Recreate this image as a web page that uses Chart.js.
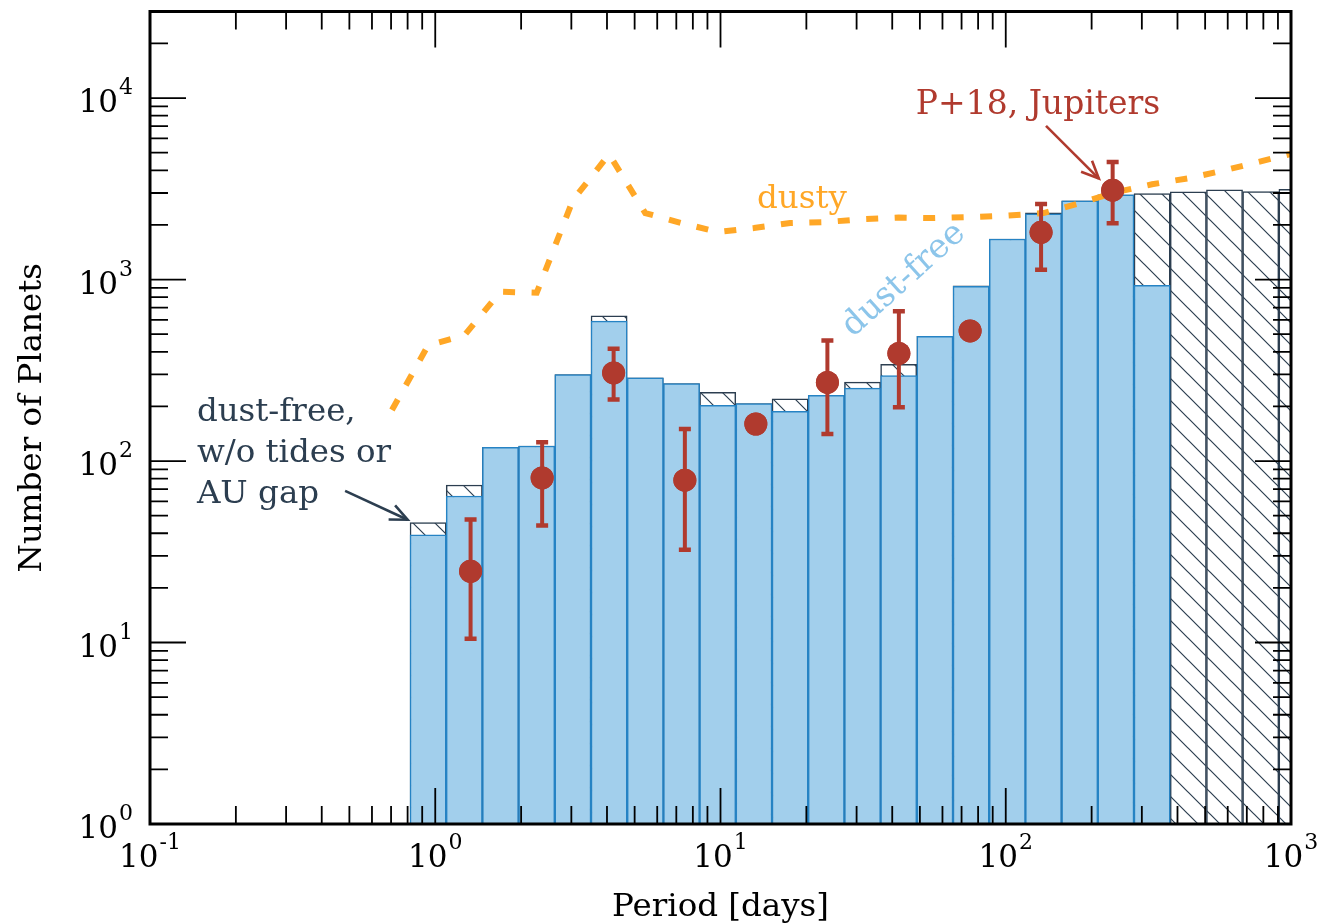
<!DOCTYPE html>
<html lang="en">
  <head>
    <meta charset="utf-8" />
    <script src="https://cdn.jsdelivr.net/npm/chart.js"></script>
    <style>
      body {
        margin: 0;
        background: #fff;
      }
      #wrap {
        width: 1333px;
        height: 924px;
      }
    </style>
    <title>Period distribution of planets</title>
  </head>

  <body>
    <div id="wrap">
      <canvas id="myChart" width="1333" height="924"></canvas>
    </div>

    <script>
      // histogram bin centres [days] (bins ~0.127 dex wide)
      const binPeriods = [
        0.944, 1.264, 1.693, 2.268, 3.038, 4.069, 5.45, 7.3, 9.777, 13.1,
        17.54, 23.49, 31.47, 42.14, 56.45, 75.61, 101.3, 135.6, 181.7, 243.3,
        325.9, 436.5, 584.7, 783.2, 1049,
      ];
      // dust-free model (blue)
      const dustFreeCounts = [
        39.2, 64.2, 119, 121, 300, 590, 287, 267, 203, 207, 188, 230, 252,
        296, 486, 917, 1674, 2300, 2715, 2928, 928,
      ];
      // dust-free, w/o tides or AU gap (hatched)
      const noTidesCounts = [
        45.8, 73.8, 119, 121, 300, 631, 287, 267, 239, 207, 220, 230, 272,
        341, 486, 925, 1674, 2330, 2715, 2928, 2980, 3041, 3119, 3055, 3147,
      ];

      // dusty model (dashed orange line)
      const dustyPeriods = [
        0.705, 0.944, 1.264, 1.693, 2.268, 3.038, 4.069, 5.45, 7.3, 9.777,
        13.1, 17.54, 23.49, 31.47, 42.14, 56.45, 75.61, 101.3, 135.6, 181.7,
        243.3, 325.9, 436.5, 584.7, 783.2, 1049,
      ];
      const dustyCounts = [
        191, 434, 492, 857, 846, 2738, 4900, 2324, 2048, 1829, 1923, 2048,
        2074, 2154, 2196, 2182, 2210, 2252, 2324, 2636, 3029, 3351, 3615,
        3999, 4480, 5020,
      ];

      // P+18 Jupiters with error bars
      const p18Periods = [1.33, 2.37, 4.22, 7.5, 13.3, 23.7, 42.2, 75.0, 133, 237];
      const p18Counts = [24.7, 80.7, 306, 78.4, 160, 271, 392, 521, 1822, 3108];
      const p18Upper = [47.7, 127, 416, 150, null, 462, 670, null, 2605, 4447];
      const p18Lower = [10.5, 44.1, 218, 32.4, null, 141, 198, null, 1133, 2042];

      // decade tick labels (exponents)
      const xTickExps = [-1, 0, 1, 2, 3];
      const yTickExps = [0, 1, 2, 3, 4];

      const SERIF = '"DejaVu Serif", "Liberation Serif", serif';
      const RED = "rgb(176, 58, 46)";
      const ORANGE = "rgb(255, 167, 38)";
      const SLATE = "rgb(44, 62, 80)";

      // hatch pattern for the "w/o tides" bars
      function makeHatch() {
        const s = 22;
        const c = document.createElement("canvas");
        c.width = s;
        c.height = s;
        const g = c.getContext("2d");
        g.fillStyle = "#fff";
        g.fillRect(0, 0, s, s);
        g.strokeStyle = SLATE;
        g.lineWidth = 1.2;
        g.beginPath();
        g.moveTo(-2, -2);
        g.lineTo(s + 2, s + 2);
        g.moveTo(s - 2, -2);
        g.lineTo(s + 2, 2);
        g.moveTo(-2, s - 2);
        g.lineTo(2, s + 2);
        g.stroke();
        return g.createPattern(c, "repeat");
      }

      function logTicks(min, max) {
        const out = [];
        for (let e = Math.floor(Math.log10(min)); e <= Math.ceil(Math.log10(max)); e++) {
          for (let m = 1; m <= 9; m++) {
            const v = m * Math.pow(10, e);
            if (v >= min * 0.999 && v <= max * 1.001) out.push({ v: v, major: m === 1 });
          }
        }
        return out;
      }

      function drawArrow(ctx, x0, y0, x1, y1, color) {
        const ang = Math.atan2(y1 - y0, x1 - x0);
        const L = 19;
        ctx.strokeStyle = color;
        ctx.lineWidth = 2.6;
        ctx.lineCap = "butt";
        ctx.lineJoin = "miter";
        ctx.beginPath();
        ctx.moveTo(x0, y0);
        ctx.lineTo(x1, y1);
        ctx.stroke();
        ctx.beginPath();
        ctx.moveTo(x1 - L * Math.cos(ang - 0.42), y1 - L * Math.sin(ang - 0.42));
        ctx.lineTo(x1, y1);
        ctx.lineTo(x1 - L * Math.cos(ang + 0.42), y1 - L * Math.sin(ang + 0.42));
        ctx.stroke();
      }

      // "10" with a superscript exponent
      function powerLabel(ctx, exp, x, base, align) {
        ctx.font = "31px " + SERIF;
        const w1 = ctx.measureText("10").width;
        ctx.font = "22px " + SERIF;
        const txt = String(exp);
        const w2 = ctx.measureText(txt).width + 1;
        const left = align === "center" ? x - (w1 + w2) / 2 : x - w1 - w2;
        ctx.textAlign = "left";
        ctx.textBaseline = "alphabetic";
        ctx.fillStyle = "#000";
        ctx.font = "31px " + SERIF;
        ctx.fillText("10", left, base);
        ctx.font = "22px " + SERIF;
        ctx.fillText(txt, left + w1 + 1, base - 18);
      }

      const frame = {
        id: "frame",
        afterDatasetsDraw(chart) {
          const { ctx, chartArea: a, scales } = chart;
          const x = scales.x;
          const y = scales.y;
          ctx.save();

          // error bars of P+18
          ctx.strokeStyle = RED;
          for (let i = 0; i < p18Periods.length; i++) {
            if (p18Upper[i] == null) continue;
            const px = x.getPixelForValue(p18Periods[i]);
            const top = y.getPixelForValue(p18Upper[i]);
            const bot = y.getPixelForValue(p18Lower[i]);
            ctx.lineWidth = 4;
            ctx.beginPath();
            ctx.moveTo(px, top);
            ctx.lineTo(px, bot);
            ctx.stroke();
            ctx.lineWidth = 4.5;
            ctx.beginPath();
            ctx.moveTo(px - 6, top);
            ctx.lineTo(px + 6, top);
            ctx.moveTo(px - 6, bot);
            ctx.lineTo(px + 6, bot);
            ctx.stroke();
          }
          // markers again on top of the bars
          ctx.fillStyle = RED;
          for (let i = 0; i < p18Periods.length; i++) {
            ctx.beginPath();
            ctx.arc(x.getPixelForValue(p18Periods[i]), y.getPixelForValue(p18Counts[i]), 11.5, 0, Math.PI * 2);
            ctx.fill();
          }

          // annotations
          ctx.textBaseline = "alphabetic";
          ctx.font = "32.5px " + SERIF;
          ctx.fillStyle = SLATE;
          ctx.textAlign = "left";
          const lx = x.getPixelForValue(0.146);
          const ly = y.getPixelForValue(166);
          ctx.fillText("dust-free,", lx, ly);
          ctx.fillText("w/o tides or", lx, ly + 41);
          ctx.fillText("AU gap", lx, ly + 82);
          drawArrow(ctx, x.getPixelForValue(0.483), y.getPixelForValue(68.5),
            x.getPixelForValue(0.8), y.getPixelForValue(47.5), SLATE);

          ctx.fillStyle = RED;
          ctx.textAlign = "center";
          ctx.font = "33px " + SERIF;
          ctx.fillText("P+18, Jupiters", x.getPixelForValue(129.8), y.getPixelForValue(8180));
          drawArrow(ctx, x.getPixelForValue(138.4), y.getPixelForValue(7031),
            x.getPixelForValue(212), y.getPixelForValue(3602), RED);

          ctx.fillStyle = ORANGE;
          ctx.font = "32.5px " + SERIF;
          ctx.fillText("dusty", x.getPixelForValue(19.3), y.getPixelForValue(2467));

          ctx.save();
          ctx.translate(x.getPixelForValue(44), y.getPixelForValue(995));
          ctx.rotate((-42 * Math.PI) / 180);
          ctx.fillStyle = "rgb(140, 197, 234)";
          ctx.font = "33.5px " + SERIF;
          ctx.textBaseline = "middle";
          ctx.fillText("dust-free", 0, 0);
          ctx.restore();

          // inward ticks on all four sides
          ctx.strokeStyle = "#000";
          ctx.lineWidth = 1.8;
          ctx.beginPath();
          logTicks(x.min, x.max).forEach((t) => {
            const px = x.getPixelForValue(t.v);
            if (px <= a.left + 1 || px >= a.right - 1) return;
            const len = t.major ? 36 : 18;
            ctx.moveTo(px, a.bottom);
            ctx.lineTo(px, a.bottom - len);
            ctx.moveTo(px, a.top);
            ctx.lineTo(px, a.top + len);
          });
          logTicks(y.min, y.max).forEach((t) => {
            const py = y.getPixelForValue(t.v);
            if (py <= a.top + 1 || py >= a.bottom - 1) return;
            const len = t.major ? 36 : 18;
            ctx.moveTo(a.left, py);
            ctx.lineTo(a.left + len, py);
            ctx.moveTo(a.right, py);
            ctx.lineTo(a.right - len, py);
          });
          ctx.stroke();

          // frame
          ctx.lineWidth = 3;
          ctx.strokeRect(a.left, a.top, a.right - a.left, a.bottom - a.top);

          // tick labels
          xTickExps.forEach((e) => {
            powerLabel(ctx, e, x.getPixelForValue(Math.pow(10, e)), a.bottom + 43, "center");
          });
          yTickExps.forEach((e) => {
            powerLabel(ctx, e, a.left - 17, y.getPixelForValue(Math.pow(10, e)) + 14, "right");
          });

          // axis titles
          ctx.fillStyle = "#000";
          ctx.font = "32.5px " + SERIF;
          ctx.textAlign = "center";
          ctx.textBaseline = "alphabetic";
          ctx.fillText("Period [days]", (a.left + a.right) / 2, 916);
          ctx.save();
          ctx.translate(41, (a.top + a.bottom) / 2);
          ctx.rotate(-Math.PI / 2);
          ctx.fillText("Number of Planets", 0, 0);
          ctx.restore();

          ctx.restore();
        },
      };

      const hatch = makeHatch();
      const ctx = document.getElementById("myChart");

      new Chart(ctx, {
        type: "bar",
        plugins: [frame],
        data: {
          datasets: [
            {
              type: "scatter",
              label: "P+18, Jupiters",
              data: p18Periods.map((p, i) => ({ x: p, y: p18Counts[i] })),
              backgroundColor: RED,
              borderWidth: 0,
              pointRadius: 11.5,
              order: 0,
              clip: 0,
            },
            {
              type: "line",
              label: "dusty",
              data: dustyPeriods.map((p, i) => ({ x: p, y: dustyCounts[i] })),
              borderColor: ORANGE,
              borderWidth: 6,
              borderDash: [12, 16.5],
              borderCapStyle: "butt",
              pointRadius: 0,
              tension: 0,
              fill: false,
              order: 1,
              clip: 0,
            },
            {
              label: "dust-free",
              data: dustFreeCounts.map((v, i) => ({ x: binPeriods[i], y: v })),
              backgroundColor: "rgb(162, 207, 236)",
              borderColor: "rgb(38, 131, 196)",
              borderWidth: 1.5,
              borderSkipped: "bottom",
              grouped: false,
              barPercentage: 1,
              categoryPercentage: 1,
              order: 2,
              clip: 0,
            },
            {
              label: "dust-free, w/o tides or AU gap",
              data: noTidesCounts.map((v, i) => ({ x: binPeriods[i], y: v })),
              backgroundColor: hatch,
              borderColor: SLATE,
              borderWidth: 1.5,
              borderSkipped: "bottom",
              grouped: false,
              barPercentage: 1,
              categoryPercentage: 1,
              order: 3,
              clip: 0,
            },
          ],
        },
        options: {
          responsive: false,
          animation: false,
          events: [],
          layout: {
            padding: { left: 150, right: 42, top: 7, bottom: 100 },
          },
          plugins: {
            legend: { display: false },
            tooltip: { enabled: false },
          },
          scales: {
            x: {
              type: "logarithmic",
              display: false,
              min: 0.1,
              max: 1000,
              offset: false,
              bounds: "data",
              afterBuildTicks: (s) => {
                s.ticks = xTickExps.map((e) => ({ value: Math.pow(10, e) }));
              },
            },
            y: {
              type: "logarithmic",
              display: false,
              min: 1,
              max: 30000,
              bounds: "data",
              afterBuildTicks: (s) => {
                s.ticks = yTickExps.map((e) => ({ value: Math.pow(10, e) }));
              },
            },
          },
        },
      });
    </script>
  </body>
</html>
